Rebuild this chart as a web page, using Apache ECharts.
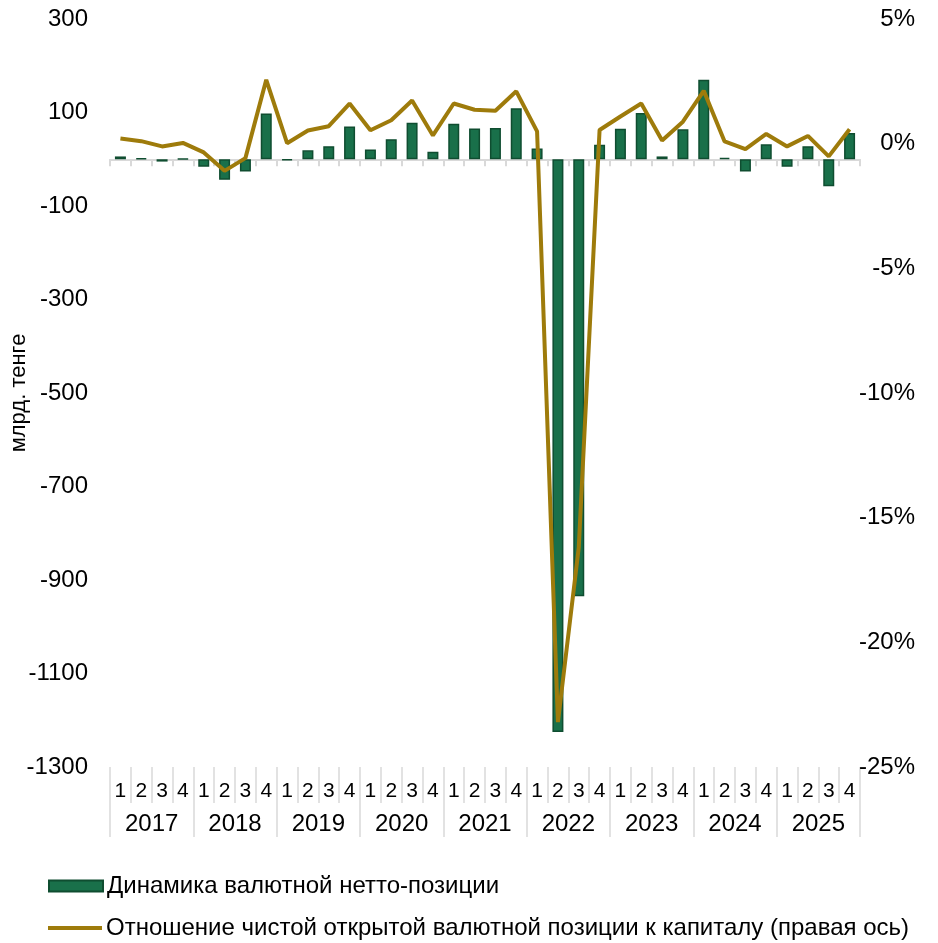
<!DOCTYPE html>
<html>
<head>
<meta charset="utf-8">
<script src="https://cdn.jsdelivr.net/npm/echarts@6/dist/echarts.min.js"></script>
<style>
  html, body { margin: 0; padding: 0; background: #fff; }
  #chart { width: 938px; height: 943px; }
</style>
</head>
<body>
<div id="chart"></div>
<script>
// Quarters and years on the category axis
const quarters = ['1','2','3','4','1','2','3','4','1','2','3','4','1','2','3','4','1','2','3','4',
                  '1','2','3','4','1','2','3','4','1','2','3','4','1','2','3','4'];
const years = ['2017','2018','2019','2020','2021','2022','2023','2024','2025'];

// Динамика валютной нетто-позиции, млрд. тенге
const netPosition = [6, 2, -5, 1, -16, -44, -26, 98, -2, 19, 28, 70, 21, 43, 78, 16, 76, 66, 67, 109,
                     23, -1225, -935, 31, 65, 99, 6, 64, 170, 3, -26, 32, -16, 28, -58, 56];

// Отношение чистой открытой валютной позиции к капиталу, %
const ratioToCapital = [0.21, 0.10, -0.11, 0.03, -0.35, -1.09, -0.58, 2.56, 0.02, 0.53, 0.70, 1.61,
                        0.54, 0.94, 1.73, 0.33, 1.61, 1.36, 1.32, 2.10, 0.49, -23.2, -16.2, 0.55,
                        1.09, 1.61, 0.13, 0.88, 2.12, 0.09, -0.22, 0.39, -0.11, 0.31, -0.51, 0.58];

const leftTicks = { min: -1300, max: 300, step: 200 };
const rightTicks = { min: -25, max: 5, step: 5 };

const BAR_NAME = 'Динамика валютной нетто-позиции';
const LINE_NAME = 'Отношение чистой открытой валютной позиции к капиталу (правая ось)';

const FONT = '"Liberation Sans", Arial, sans-serif';
const GRAY = '#d9d9d9';
const BAR = '#19704a';
const BAR_EDGE = '#0f4d30';
const LINE = '#9e7b0b';

const chart = echarts.init(document.getElementById('chart'), null, { renderer: 'canvas' });

const legendText = { fontFamily: FONT, fontSize: 24, color: '#000', padding: [0, 0, 0, -1] };

chart.setOption({
  animation: false,
  textStyle: { fontFamily: FONT, color: '#000' },
  grid: { left: 110, right: 78, top: 19, bottom: 176, containLabel: false, outerBoundsMode: 'none' },
  legend: [
    {
      left: 48, top: 874, padding: 0,
      itemWidth: 54, itemHeight: 11,
      textStyle: legendText,
      data: [{ name: BAR_NAME, icon: 'rect' }]
    },
    {
      left: 48, top: 916, padding: 0,
      itemWidth: 54, itemHeight: 11,
      textStyle: legendText,
      data: [{ name: LINE_NAME, icon: 'path://M0,0L54,0L54,4L0,4Z' }]
    }
  ],
  xAxis: [
    {
      type: 'category',
      data: quarters,
      position: 'bottom',
      axisLine: { onZero: true, lineStyle: { color: GRAY, width: 2 } },
      axisTick: { show: true, length: 7, lineStyle: { color: GRAY, width: 2 } },
      axisLabel: { show: false },
      splitLine: { show: false }
    },
    {
      type: 'category',
      data: quarters,
      position: 'bottom',
      axisLine: { show: false, onZero: false },
      axisTick: { show: true, length: 36, lineStyle: { color: GRAY, width: 1.5 } },
      axisLabel: { show: true, margin: 14, fontSize: 21, color: '#000', fontFamily: FONT, interval: 0 },
      splitLine: { show: false }
    },
    {
      type: 'category',
      data: years,
      position: 'bottom',
      axisLine: { show: false, onZero: false },
      axisTick: { show: true, length: 70, lineStyle: { color: GRAY, width: 1.5 } },
      axisLabel: { show: true, margin: 45, fontSize: 24, color: '#000', fontFamily: FONT, interval: 0 },
      splitLine: { show: false }
    }
  ],
  yAxis: [
    {
      type: 'value',
      min: leftTicks.min,
      max: leftTicks.max,
      interval: leftTicks.step,
      position: 'left',
      name: 'млрд. тенге',
      nameLocation: 'middle',
      nameGap: 80,
      nameMoveOverlap: false,
      nameTextStyle: { fontFamily: FONT, fontSize: 22, color: '#000' },
      axisLine: { show: false },
      axisTick: { show: false },
      splitLine: { show: false },
      axisLabel: {
        margin: 22, fontSize: 24, color: '#000', fontFamily: FONT,
        formatter: (v) => String(v)
      }
    },
    {
      type: 'value',
      min: rightTicks.min,
      max: rightTicks.max,
      interval: rightTicks.step,
      position: 'right',
      axisLine: { show: false },
      axisTick: { show: false },
      splitLine: { show: false },
      axisLabel: {
        margin: 55, align: 'right', fontSize: 24, color: '#000', fontFamily: FONT,
        formatter: (v) => v + '%'
      }
    }
  ],
  series: [
    {
      name: BAR_NAME,
      type: 'bar',
      xAxisIndex: 0,
      yAxisIndex: 0,
      data: netPosition,
      barWidth: 11,
      itemStyle: { color: BAR, borderColor: BAR_EDGE, borderWidth: 1.5 },
      z: 2
    },
    {
      name: LINE_NAME,
      type: 'line',
      xAxisIndex: 0,
      yAxisIndex: 1,
      data: ratioToCapital,
      symbol: 'none',
      showSymbol: false,
      lineStyle: { color: LINE, width: 4 },
      itemStyle: { color: LINE },
      z: 3
    }
  ]
});
</script>
</body>
</html>
